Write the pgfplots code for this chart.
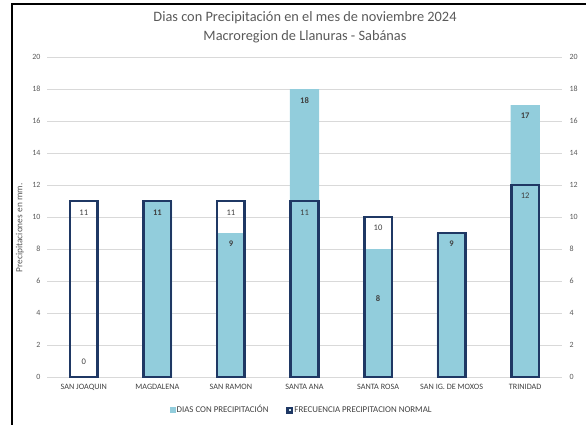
\documentclass[border=0pt]{standalone}
\usepackage{fontspec}
\setmainfont{Carlito}
\usepackage{pgfplots}
\pgfplotsset{compat=1.18}
\definecolor{aqua}{HTML}{92CDDC}
\definecolor{navy}{HTML}{1F3864}
\definecolor{txt}{HTML}{595959}
\definecolor{dtxt}{HTML}{404040}
\definecolor{gridc}{HTML}{D9D9D9}
\begin{document}
\begin{tikzpicture}[x=1bp,y=1bp]
\useasboundingbox (0,0) rectangle (586,424);
\draw[black, line width=1.3bp] (12,-2) -- (12,420) -- (590,420);
\node[txt, font=\fontsize{14.4}{16}\selectfont] at (305,406) {Dias con Precipitación en el mes de noviembre 2024};
\node[txt, font=\fontsize{14.4}{16}\selectfont] at (305,387) {Macroregion de Llanuras - Sabánas};
\node[txt, rotate=90, font=\fontsize{9.4}{11}\selectfont] at (20,196) {Precipitaciones en mm.};
\begin{axis}[
  at={(47bp,47bp)}, anchor=south west, scale only axis,
  width=515bp, height=320bp,
  xmin=-0.5, xmax=6.5, ymin=0, ymax=20,
  ytick={0,2,...,20}, xtick={0,...,6},
  xticklabels={SAN JOAQUIN,MAGDALENA,SAN RAMON,SANTA ANA,SANTA ROSA,SAN IG. DE MOXOS,TRINIDAD},
  ymajorgrids, grid style={gridc, line width=0.8bp},
  axis line style={draw=none}, major tick length=0,
  /pgf/number format/assume math mode=true,
  yticklabel style={txt, font=\fontsize{8}{9}\selectfont, xshift=-3bp},
  xticklabel style={dtxt, font=\fontsize{8.2}{9}\selectfont, yshift=-4bp},
  clip=false,
  legend style={at={(rel axis cs:0.494,0)}, anchor=center, yshift=-33bp, draw=none, fill=none,
    legend columns=2, font=\fontsize{8.9}{10}\selectfont, text=dtxt, inner sep=0pt,
    /tikz/every even column/.append style={column sep=17bp},
    nodes={inner sep=1bp}},
  legend cell align=left,
]
\addplot[ybar, bar width=0.40, fill=aqua, draw=none,
  legend image code/.code={\fill[aqua] (0bp,-2.8bp) rectangle (5.5bp,2.8bp);}]
  coordinates {(0,0) (1,11) (2,9) (3,18) (4,8) (5,9) (6,17)};
\addlegendentry{DIAS CON PRECIPITACIÓN}
\addplot[ybar, bar width=0.375, fill=none, draw=navy, line width=2.6bp,
  legend image code/.code={\draw[navy, line width=2.2bp, fill=aqua!40] (1.1bp,-2.4bp) rectangle (5.9bp,2.4bp);}]
  coordinates {(0,11) (1,11) (2,11) (3,11) (4,10) (5,9) (6,12)};
\addlegendentry{FRECUENCIA PRECIPITACION NORMAL}
\begin{scope}[every node/.style={dtxt, font=\fontsize{8.6}{10}\selectfont}]
\node at (axis cs:0,10.25) {11};
\node at (axis cs:0,0.95) {0};
\node at (axis cs:1,10.25) {\bfseries 11};
\node at (axis cs:2,10.25) {11};
\node at (axis cs:2,8.35) {\bfseries 9};
\node at (axis cs:3,17.3) {\bfseries 18};
\node at (axis cs:3,10.25) {11};
\node at (axis cs:4,9.3) {10};
\node at (axis cs:4,4.9) {\bfseries 8};
\node at (axis cs:5,8.35) {\bfseries 9};
\node at (axis cs:6,16.3) {\bfseries 17};
\node at (axis cs:6,11.3) {12};
\end{scope}
\end{axis}
\begin{axis}[
  at={(47bp,47bp)}, anchor=south west, scale only axis,
  width=515bp, height=320bp,
  xmin=-0.5, xmax=6.5, ymin=0, ymax=20,
  ytick={0,2,...,20}, hide x axis, axis y line*=right,
  axis line style={draw=none}, major tick length=0,
  /pgf/number format/assume math mode=true,
  yticklabel style={txt, font=\fontsize{8}{9}\selectfont, xshift=4bp},
]
\end{axis}
\end{tikzpicture}
\end{document}
